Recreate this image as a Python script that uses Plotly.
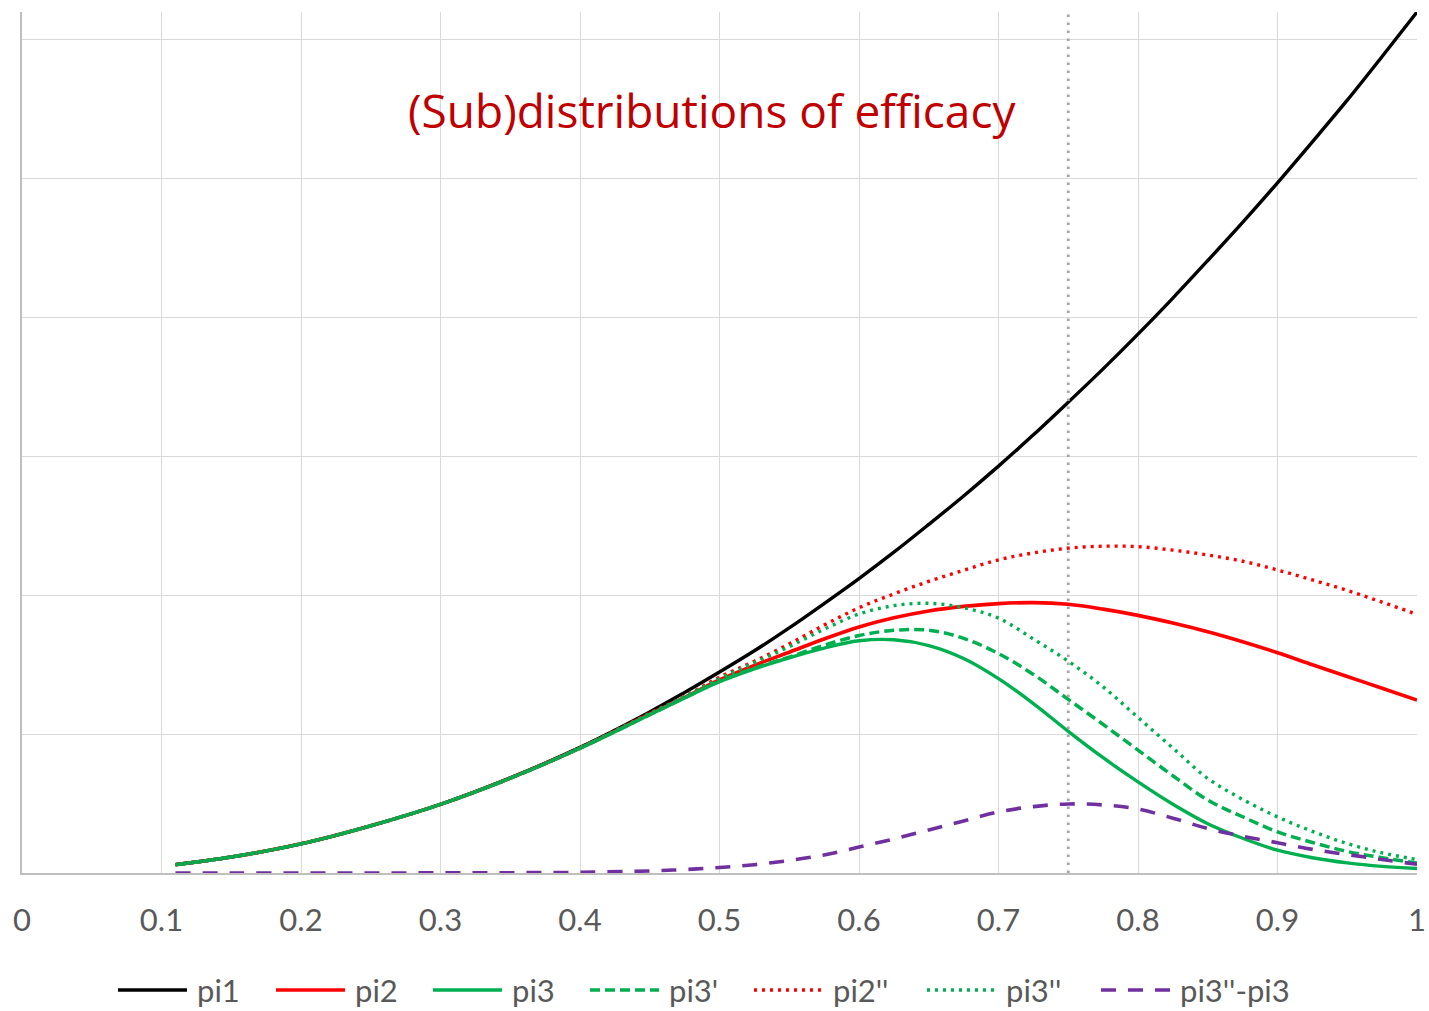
import plotly.graph_objects as go

# ---- data -------------------------------------------------------------
efficacy = [0.11, 0.15, 0.20, 0.25, 0.30, 0.35, 0.40, 0.45, 0.475, 0.50,
            0.525, 0.55, 0.575, 0.60, 0.625, 0.65, 0.675, 0.70, 0.725, 0.75,
            0.775, 0.80, 0.825, 0.85, 0.875, 0.90, 0.925, 0.95, 0.975, 1.00]

pi1 = [0.06, 0.115, 0.21, 0.34, 0.495, 0.685, 0.905, 1.16, 1.30, 1.447,
       1.60, 1.765, 1.94, 2.12, 2.31, 2.51, 2.715, 2.93, 3.155, 3.39,
       3.63, 3.88, 4.14, 4.41, 4.685, 4.97, 5.265, 5.565, 5.88, 6.2]

pi2 = [0.06, 0.115, 0.21, 0.34, 0.494, 0.683, 0.90, 1.145, 1.265, 1.39,
       1.495, 1.59, 1.685, 1.772, 1.838, 1.887, 1.92, 1.94, 1.947, 1.935,
       1.90, 1.855, 1.80, 1.737, 1.665, 1.586, 1.50, 1.415, 1.33, 1.245]

pi3 = [0.06, 0.115, 0.21, 0.34, 0.494, 0.682, 0.898, 1.14, 1.26, 1.377,
       1.47, 1.55, 1.62, 1.672, 1.68, 1.638, 1.545, 1.40, 1.22, 1.02,
       0.83, 0.656, 0.495, 0.355, 0.25, 0.164, 0.11, 0.073, 0.048, 0.032]

pi3_prime = [0.06, 0.115, 0.21, 0.34, 0.494, 0.682, 0.899, 1.14, 1.262, 1.38,
             1.475, 1.555, 1.64, 1.71, 1.748, 1.748, 1.69, 1.58, 1.43, 1.25,
             1.07, 0.885, 0.70, 0.525, 0.405, 0.296, 0.22, 0.155, 0.11, 0.072]

pi2_dprime = [0.06, 0.115, 0.21, 0.34, 0.495, 0.684, 0.903, 1.15, 1.272, 1.41,
              1.525, 1.65, 1.785, 1.91, 2.01, 2.10, 2.18, 2.255, 2.305, 2.339,
              2.353, 2.35, 2.325, 2.29, 2.245, 2.182, 2.11, 2.035, 1.95, 1.863]

pi3_dprime = [0.06, 0.115, 0.21, 0.34, 0.495, 0.684, 0.902, 1.147, 1.27, 1.40,
              1.515, 1.63, 1.755, 1.865, 1.925, 1.942, 1.91, 1.835, 1.685, 1.525,
              1.34, 1.12, 0.90, 0.681, 0.53, 0.404, 0.30, 0.212, 0.145, 0.097]

pi3_gap = [0.0, 0.0, 0.0, 0.0, 0.001, 0.002, 0.005, 0.015, 0.025, 0.04,
           0.06, 0.09, 0.13, 0.187, 0.245, 0.31, 0.375, 0.44, 0.478, 0.497,
           0.49, 0.46, 0.395, 0.32, 0.265, 0.218, 0.17, 0.133, 0.097, 0.063]

series_names = ["pi1", "pi2", "pi3", "pi3'", "pi2''", "pi3''", "pi3''-pi3"]
series_values = [pi1, pi2, pi3, pi3_prime, pi2_dprime, pi3_dprime, pi3_gap]

x_tick_values = [0, 0.1, 0.2, 0.3, 0.4, 0.5, 0.6, 0.7, 0.8, 0.9, 1.0]
x_tick_labels = ["0", "0.1", "0.2", "0.3", "0.4", "0.5", "0.6", "0.7", "0.8", "0.9", "1"]

reference_efficacy = 0.75
title_text = "(Sub)distributions of efficacy"

# ---- styling ----------------------------------------------------------
FONT = "Lato, 'Open Sans', sans-serif"
TITLE_FONT = "'Open Sans', Lato, sans-serif"
LABEL_GREY = "#595959"
styles = {
    "pi1":       dict(color="#000000", dash="solid", width=3.4),
    "pi2":       dict(color="#FF0000", dash="solid", width=3.6),
    "pi3":       dict(color="#00B050", dash="solid", width=3.4),
    "pi3'":      dict(color="#00B050", dash="10px,5px", width=3.5),
    "pi2''":     dict(color="#FF0000", dash="3px,5px", width=3.4),
    "pi3''":     dict(color="#00B050", dash="3px,5px", width=3.4),
    "pi3''-pi3": dict(color="#7030A0", dash="15px,12px", width=3.6),
}

W, H = 1429, 1011
MARGIN = dict(l=22, r=12, t=12, b=138)
plot_w = W - MARGIN["l"] - MARGIN["r"]
plot_h = H - MARGIN["t"] - MARGIN["b"]


def paper_x(px):
    return (px - MARGIN["l"]) / plot_w


def paper_y(py):
    return (H - MARGIN["b"] - py) / plot_h


fig = go.Figure()

for name, values in zip(series_names, series_values):
    st = styles[name]
    fig.add_trace(go.Scatter(
        x=efficacy, y=values, name=name, mode="lines",
        line=dict(color=st["color"], width=st["width"], dash=st["dash"],
                  shape="spline", smoothing=1.0),
        showlegend=False, hoverinfo="x+y+name",
    ))

# vertical dotted reference at the chosen efficacy
fig.add_vline(x=reference_efficacy, layer="above",
              line=dict(color="#A6A6A6", width=2.8, dash="2.6px,5.4px"))

# title inside the plot area
fig.add_annotation(text=title_text, xref="paper", yref="paper",
                   x=paper_x(712), y=paper_y(110), xanchor="center", yanchor="middle",
                   showarrow=False, font=dict(family=TITLE_FONT, size=46, color="#C00000"))

# legend row beneath the axis: sample line followed by the series name
legend_start_px = [118, 276, 433, 590, 754, 927, 1101]
legend_row_py = 990
sample_len = 69
text_offset = 77
for name, x0 in zip(series_names, legend_start_px):
    st = styles[name]
    fig.add_shape(type="line", xref="paper", yref="paper",
                  x0=paper_x(x0), x1=paper_x(x0 + sample_len),
                  y0=paper_y(legend_row_py), y1=paper_y(legend_row_py),
                  line=dict(color=st["color"], width=st["width"], dash=st["dash"]))
    fig.add_annotation(text=name, xref="paper", yref="paper",
                       x=paper_x(x0 + text_offset), y=paper_y(legend_row_py),
                       xanchor="left", yanchor="middle", showarrow=False,
                       font=dict(family=FONT, size=31, color=LABEL_GREY))

fig.update_xaxes(range=[0, 1], tickmode="array", tickvals=x_tick_values,
                 ticktext=x_tick_labels, showgrid=True, gridcolor="#D9D9D9",
                 gridwidth=1.4, zeroline=False, showline=True, linecolor="#BFBFBF",
                 linewidth=1.5, ticks="", ticklabelstandoff=19, automargin=False,
                 tickfont=dict(family=FONT, size=31, color=LABEL_GREY))
fig.update_yaxes(range=[0, 6.2], tick0=0, dtick=1, showticklabels=False,
                 showgrid=True, gridcolor="#D9D9D9", gridwidth=1.4, zeroline=False,
                 showline=True, linecolor="#BFBFBF", linewidth=1.5, ticks="",
                 automargin=False)

fig.update_layout(width=W, height=H, autosize=False, margin=dict(MARGIN, pad=0),
                  paper_bgcolor="white", plot_bgcolor="white",
                  font=dict(family=FONT), showlegend=False)

fig.write_html("out.html")
